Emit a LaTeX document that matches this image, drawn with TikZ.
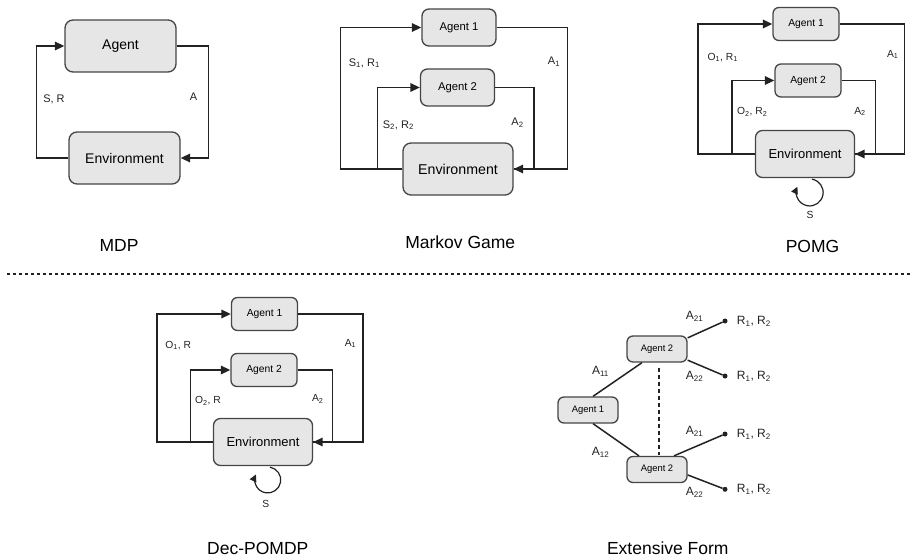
\documentclass[tikz,border=0pt]{standalone}
\usepackage{fontspec}
\setmainfont{Liberation Sans}
\usetikzlibrary{arrows.meta,positioning}

\definecolor{boxfill}{HTML}{E6E6E6}
\definecolor{boxline}{HTML}{454545}
\definecolor{wirecol}{HTML}{222222}

\tikzset{
  box/.style={draw=boxline, fill=boxfill, line width=1.3pt, rounded corners=#1, inner sep=0pt},
  bigbox/.style={box=8pt, minimum width=111pt, minimum height=52pt, font=\fontsize{14}{16}\selectfont},
  midagent/.style={box=7pt, minimum width=74pt, minimum height=37pt, font=\fontsize{11.3}{13}\selectfont},
  midenv/.style={box=8pt, minimum width=110pt, minimum height=52pt, font=\fontsize{14.2}{16}\selectfont},
  smallagent/.style={box=6pt, minimum width=66pt, minimum height=33pt, font=\fontsize{10.3}{12}\selectfont},
  smallenv/.style={box=7pt, minimum width=99pt, minimum height=47pt, font=\fontsize{13}{15}\selectfont},
  treeagent/.style={box=6pt, minimum width=60pt, minimum height=26pt, font=\fontsize{9.4}{11}\selectfont},
  lbl/.style={inner sep=1pt, text=wirecol, font=\fontsize{11}{13}\selectfont},
  slbl/.style={lbl, font=\fontsize{10.3}{12}\selectfont},
  tlbl/.style={lbl, font=\fontsize{12}{14}\selectfont},
  paneltitle/.style={inner sep=1pt, font=\fontsize{17.5}{20}\selectfont},
  link/.style={draw=wirecol, line width=1.6pt},
  selfloop/.style={draw=wirecol, line width=1.2pt, -{Triangle[length=7pt,width=7pt]}},
  branch/.style={draw=wirecol, line width=1.5pt},
  dot/.style={circle, fill=wirecol, inner sep=0pt, minimum size=5pt}
}

\begin{document}
\begin{tikzpicture}[x=1pt, y=-1pt, >={Triangle[length=9.5pt,width=8.5pt]}]
  \useasboundingbox (0,0) rectangle (912,559);

  % MDP
  \node[bigbox] (ag)  at (120.5,46)  {Agent};
  \node[bigbox] (env) at (124.5,158) {Environment};
  \draw[link,->] (env.west) -- ++(-32,0) |- (ag.west);
  \draw[link,->] (ag.east) -- ++(32,0) |- (env.east);
  \node[lbl] (sr) at (54,99) {S, R};
  \node[lbl] (a)  at (193.5,97) {A};
  \node[paneltitle] (t1) at (119,245.5) {MDP};

  % Markov game
  \node[midagent] (mg1)   at (459,27.5)  {Agent 1};
  \node[midagent] (mg2)   at (457.5,87.5) {Agent 2};
  \node[midenv]   (mgenv) at (458,169)   {Environment};
  \draw[link,->] (mgenv.west) -- ++(-62,0) |- (mg1.west);
  \draw[link,->] (mgenv.west) ++(-25,0) |- (mg2.west);
  \draw[link] (mg2.east) -- ++(39,0) |- (mgenv.east);
  \draw[link,->] (mg1.east) -- ++(71,0) |- (mgenv.east);
  \node[lbl] (mgs1) at (364.3,63)  {S\textsubscript{1}, R\textsubscript{1}};
  \node[lbl] (mgs2) at (398.3,125) {S\textsubscript{2}, R\textsubscript{2}};
  \node[lbl] (mga1) at (554,61.5)  {A\textsubscript{1}};
  \node[lbl] (mga2) at (517.5,123) {A\textsubscript{2}};
  \node[paneltitle] (t2) at (460.3,242.5) {Markov Game};

  % POMG
  \node[smallagent] (pg1)   at (806,24)   {Agent 1};
  \node[smallagent] (pg2)   at (808,80.5) {Agent 2};
  \node[smallenv]   (pgenv) at (805,154)  {Environment};
  \draw[link,->] (pgenv.west) -- ++(-57,0) |- (pg1.west);
  \draw[link,->] (pgenv.west) ++(-23,0) |- (pg2.west);
  \draw[link] (pg2.east) -- ++(34,0) |- (pgenv.east);
  \draw[link,->] (pg1.east) -- ++(65,0) |- (pgenv.east);
  \draw[selfloop] (pgenv.south) ++(7,1) arc[start angle=-80, end angle=205, radius=13.5];
  \node[slbl] (pgo1) at (722.8,57.5)  {O\textsubscript{1}, R\textsubscript{1}};
  \node[slbl] (pgo2) at (752.3,112)   {O\textsubscript{2}, R\textsubscript{2}};
  \node[slbl] (pga1) at (892.8,54.5)  {A\textsubscript{1}};
  \node[slbl] (pga2) at (860,111.5)   {A\textsubscript{2}};
  \node[slbl] (pgs)  at (810,215)     {S};
  \node[paneltitle] (t3) at (812.5,246) {POMG};

  % separator
  \draw[dash pattern=on 3pt off 3pt, line width=2pt, color=wirecol] (7,273.7) -- (912,273.7);

  % Dec-POMDP
  \node[smallagent] (dp1)   at (264.5,314) {Agent 1};
  \node[smallagent] (dp2)   at (264,370)   {Agent 2};
  \node[smallenv]   (dpenv) at (263,442)   {Environment};
  \draw[link,->] (dpenv.west) -- ++(-56,0) |- (dp1.west);
  \draw[link,->] (dpenv.west) ++(-22.5,0) |- (dp2.west);
  \draw[link] (dp2.east) -- ++(35,0) |- (dpenv.east);
  \draw[link,->] (dp1.east) -- ++(65,0) |- (dpenv.east);
  \draw[selfloop] (dpenv.south) ++(7,1) arc[start angle=-80, end angle=205, radius=13];
  \node[slbl] (dpo1) at (178.3,345.5) {O\textsubscript{1}, R};
  \node[slbl] (dpo2) at (208,401)     {O\textsubscript{2}, R};
  \node[slbl] (dpa1) at (350.5,343.5) {A\textsubscript{1}};
  \node[slbl] (dpa2) at (317.8,399)   {A\textsubscript{2}};
  \node[slbl] (dps)  at (265.8,504)   {S};
  \node[paneltitle] (t4) at (257.8,548.3) {Dec-POMDP};

  % extensive form
  \node[treeagent] (ef1) at (588,410)   {Agent 1};
  \node[treeagent] (ef2) at (657,349)   {Agent 2};
  \node[treeagent] (ef3) at (657,469.5) {Agent 2};
  \node[dot] (l1) at (725,321)   {};
  \node[dot] (l2) at (725,376)   {};
  \node[dot] (l3) at (725,434)   {};
  \node[dot] (l4) at (725,489.3) {};
  \draw[branch] ([xshift=5pt]ef1.north) -- ([xshift=-15pt]ef2.south);
  \draw[branch] ([xshift=5pt]ef1.south) -- ([xshift=-18pt]ef3.north);
  \draw[branch, line width=1.3pt, dash pattern=on 4pt off 3pt, shorten <=5pt, shorten >=1pt] ([xshift=2pt]ef2.south) -- ([xshift=2pt]ef3.north);
  \draw[branch] (ef2.20)  -- (l1);
  \draw[branch] (ef2.-20) -- (l2);
  \draw[branch] ([xshift=17pt]ef3.north) -- (l3);
  \draw[branch] (ef3.-10) -- (l4);
  \node[tlbl, right=8pt of l1] (r1) {R\textsubscript{1}, R\textsubscript{2}};
  \node[tlbl, right=8pt of l2] (r2) {R\textsubscript{1}, R\textsubscript{2}};
  \node[tlbl, right=8pt of l3] (r3) {R\textsubscript{1}, R\textsubscript{2}};
  \node[tlbl, right=8pt of l4] (r4) {R\textsubscript{1}, R\textsubscript{2}};
  \node[tlbl] (e21a) at (694.5,316.5) {A\textsubscript{21}};
  \node[tlbl] (e22a) at (694.5,376)   {A\textsubscript{22}};
  \node[tlbl] (e11)  at (600.5,371)   {A\textsubscript{11}};
  \node[tlbl] (e12)  at (600.5,452)   {A\textsubscript{12}};
  \node[tlbl] (e21b) at (694.5,431.5) {A\textsubscript{21}};
  \node[tlbl] (e22b) at (694.5,492)   {A\textsubscript{22}};
  \node[paneltitle] (t5) at (667.8,548) {Extensive Form};
\end{tikzpicture}
\end{document}
